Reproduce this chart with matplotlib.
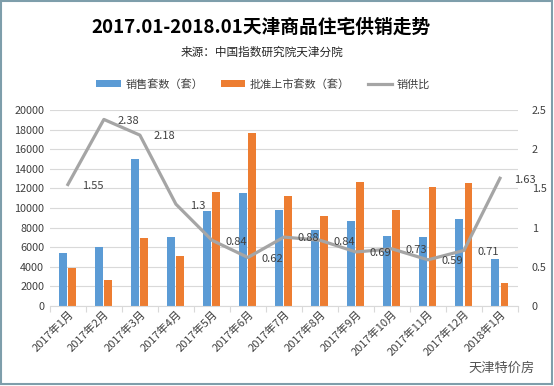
import matplotlib
matplotlib.use("Agg")
import matplotlib.pyplot as plt
from matplotlib.patches import Rectangle
import numpy as np

plt.rcParams['font.family'] = ['Noto Sans CJK SC', 'DejaVu Sans']

months = ["2017年1月", "2017年2月", "2017年3月", "2017年4月", "2017年5月", "2017年6月",
          "2017年7月", "2017年8月", "2017年9月", "2017年10月", "2017年11月", "2017年12月", "2018年1月"]
sales = [5400, 6000, 15050, 7000, 9700, 11550, 9800, 7750, 8700, 7150, 7080, 8900, 4800]
approved = [3900, 2650, 6980, 5130, 11650, 17700, 11250, 9200, 12650, 9800, 12100, 12600, 2380]
ratio = [1.55, 2.38, 2.18, 1.3, 0.84, 0.62, 0.88, 0.84, 0.69, 0.73, 0.59, 0.71, 1.63]
left_ticks = list(range(0, 20001, 2000))
right_ticks = [0, 0.5, 1, 1.5, 2, 2.5]

c_blue = "#5B9BD5"
c_orange = "#ED7D31"
c_gray = "#A5A5A5"

fig = plt.figure(figsize=(5.54, 3.86), dpi=100)
ax = fig.add_axes([0.090, 0.207, 0.845, 0.508])
x = np.arange(len(months))
w = 0.22
ax.bar(x - 0.135, sales, w, color=c_blue, label="销售套数（套）", zorder=2)
ax.bar(x + 0.125, approved, w, color=c_orange, label="批准上市套数（套）", zorder=2)
ax.set_xlim(-0.5, len(months) - 0.5)
ax.set_ylim(0, 20000)
ax.set_yticks(left_ticks)
ax.set_yticklabels([str(t) for t in left_ticks], fontsize=7.8, color="#404040")
ax.yaxis.grid(True, color="#D9D9D9", linewidth=0.8, zorder=0)
ax.set_axisbelow(True)
for s in ["top", "right", "left"]:
    ax.spines[s].set_visible(False)
ax.spines["bottom"].set_color("#D9D9D9")
ax.tick_params(axis="y", length=0, pad=4)
ax.set_xticks(np.arange(-0.5, len(months), 1), minor=False)
ax.set_xticklabels([])
ax.tick_params(axis="x", which="major", length=4, color="#D9D9D9")
ax.set_xticks(x, minor=True)
ax.set_xticklabels(months, minor=True, rotation=45, ha="right", rotation_mode="anchor",
                   fontsize=8, color="#404040")
ax.tick_params(axis="x", which="minor", length=0, pad=2)

ax2 = ax.twinx()
ax2.plot(x, ratio, color=c_gray, linewidth=2.3, label="销供比", zorder=3)
ax2.set_ylim(0, 2.5)
ax2.set_yticks(right_ticks)
ax2.set_yticklabels([f"{t:g}" for t in right_ticks], fontsize=7.8, color="#404040")
ax2.tick_params(axis="y", length=0, pad=10)
for s in ["top", "right", "left", "bottom"]:
    ax2.spines[s].set_visible(False)
for xi, r in zip(x, ratio):
    ax2.annotate(f"{r:g}", (xi, r), xytext=(10, -1), textcoords="offset points",
                 ha="left", va="center", fontsize=8, color="#404040")

h1, l1 = ax.get_legend_handles_labels()
h2, l2 = ax2.get_legend_handles_labels()
fig.legend(h1 + h2, l1 + l2, loc="center", bbox_to_anchor=(0.475, 0.782), ncol=3,
           frameon=False, fontsize=8, handlelength=2.2, handleheight=0.5,
           columnspacing=1.6, handletextpad=0.4, labelcolor="#404040")

fig.text(0.472, 0.930, "2017.01-2018.01天津商品住宅供销走势", ha="center", va="center",
         fontsize=13.5, fontweight="bold", color="#000000")
fig.text(0.472, 0.865, "来源：中国指数研究院天津分院", ha="center", va="center",
         fontsize=8.4, color="#262626")
fig.text(0.965, 0.045, "天津特价房", ha="right", va="center", fontsize=9.5, color="#555555")

fig.patches.append(Rectangle((0.002, 0.004), 0.995, 0.993, transform=fig.transFigure,
                             fill=False, edgecolor="#7E9EAB", linewidth=1.5))

fig.savefig("out.png", dpi=100)
